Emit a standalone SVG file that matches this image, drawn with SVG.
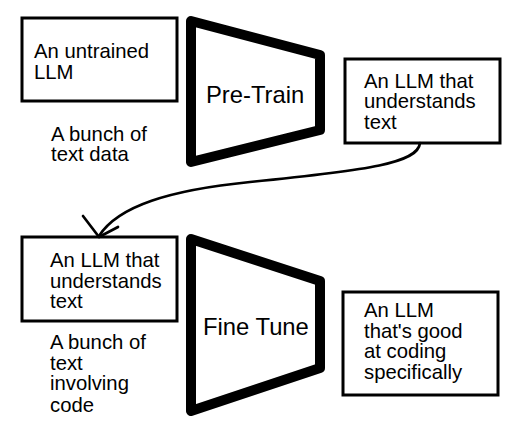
<svg xmlns="http://www.w3.org/2000/svg" width="509" height="425" viewBox="0 0 509 425">
<style>
.box{fill:#fff;stroke:#000;stroke-width:3}
.trap{fill:#fff;stroke:#000;stroke-width:10;stroke-linejoin:round}
.t{font-family:"Liberation Sans",Arial,sans-serif;font-size:20.3px;fill:#000}
.big{font-family:"Liberation Sans",Arial,sans-serif;font-size:23.8px;fill:#000}
.conn{fill:none;stroke:#000;stroke-width:2.7;stroke-linecap:round;stroke-linejoin:round}
</style>
<rect width="509" height="425" fill="#fff"/>
<g id="untrained">
<rect class="box" x="22" y="18" width="155" height="83"/>
<text class="t" x="34" y="57.5">An untrained</text>
<text class="t" x="34" y="78.5">LLM</text>
</g>
<g id="data1">
<text class="t" x="51" y="141">A bunch of</text>
<text class="t" x="51" y="161">text data</text>
</g>
<g id="pretrain">
<polygon class="trap" points="191,21 320,55 320,130 191,162"/>
<text class="big" x="206" y="103">Pre-Train</text>
</g>
<g id="understands1">
<rect class="box" x="345" y="59" width="155" height="84"/>
<text class="t" x="364" y="87.5">An LLM that</text>
<text class="t" x="364" y="108">understands</text>
<text class="t" x="364" y="128.5">text</text>
</g>
<g id="understands2">
<rect class="box" x="22" y="237" width="155" height="84"/>
<text class="t" x="50" y="267">An LLM that</text>
<text class="t" x="50" y="288">understands</text>
<text class="t" x="50" y="308">text</text>
</g>
<g id="data2">
<text class="t" x="50" y="348.5">A bunch of</text>
<text class="t" x="50" y="369.5">text</text>
<text class="t" x="50" y="390">involving</text>
<text class="t" x="50" y="411.5">code</text>
</g>
<g id="finetune">
<polygon class="trap" points="191,239 320,281 320,368 191,411"/>
<text class="big" x="203" y="335">Fine Tune</text>
</g>
<g id="coding">
<rect class="box" x="343" y="292" width="155" height="103"/>
<text class="t" x="364" y="317">An LLM</text>
<text class="t" x="364" y="337.5">that's good</text>
<text class="t" x="364" y="358">at coding</text>
<text class="t" x="364" y="378.5">specifically</text>
</g>
<g id="connectors">
<path class="conn" d="M420,143 C418,163 370,170 250,182 C170,190 118,206 99,236"/>
<path class="conn" d="M83,216 L99,237 L118,227"/>
</g>
</svg>
